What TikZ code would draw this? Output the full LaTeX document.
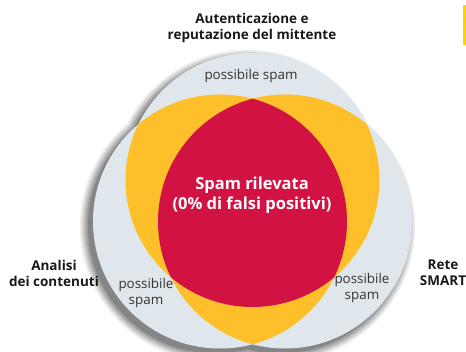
\documentclass[tikz,border=0pt]{standalone}
\usepackage{fontspec}
\setmainfont{Open Sans}
\definecolor{lightc}{HTML}{DFE7EC}
\definecolor{yel}{HTML}{FDC02A}
\definecolor{redc}{HTML}{D21243}
\definecolor{txtg}{HTML}{333333}
\definecolor{barc}{HTML}{FFD200}
\begin{document}
\begin{tikzpicture}[x=1pt,y=-1pt,
  lbl/.style={font=\fontsize{13.5}{16}\selectfont\bfseries, text=black!90, align=center, inner sep=0pt},
  spamtxt/.style={font=\fontsize{13.4}{16}\selectfont, text=txtg, align=center, inner sep=0pt},
  redtxt/.style={font=\fontsize{16.5}{20.5}\selectfont\bfseries, text=white, align=center, inner sep=0pt}]
\useasboundingbox (0,0) rectangle (466,352);
\def\R{127}
\coordinate (cT) at (252.5,180);
\coordinate (cL) at (220,221.5);
\coordinate (cR) at (285,221.5);
% shadow
\foreach \s/\o in {8/0.08,6/0.10,4/0.12,2/0.14,0/0.16}{
  \fill[black,opacity=\o] ([shift={(-5,5)}]cT) circle (\R+\s) ([shift={(-5,5)}]cL) circle (\R+\s) ([shift={(-5,5)}]cR) circle (\R+\s);
}
% union
\fill[lightc] (cT) circle (\R) (cL) circle (\R) (cR) circle (\R);
% pairwise intersections
\begin{scope}
  \clip (cT) circle (\R);
  \fill[yel] (cL) circle (\R) (cR) circle (\R);
\end{scope}
\begin{scope}
  \clip (cL) circle (\R);
  \fill[yel] (cR) circle (\R);
\end{scope}
% triple intersection
\begin{scope}
  \clip (cT) circle (\R);
  \clip (cL) circle (\R);
  \fill[redc] (cR) circle (\R);
\end{scope}
% texts
\node[lbl] (top) at (252,28) {Autenticazione e\\reputazione del mittente};
\node[lbl] (left) at (54,273) {Analisi\\dei contenuti};
\node[lbl] (right) at (443,273) {Rete\\SMART};
\node[spamtxt] (s1) at (251,76) {possibile spam};
\node[spamtxt] (s2) at (146,293) {possibile\\spam};
\node[spamtxt] (s3) at (362,288) {possibile\\spam};
\node[redtxt] (center) at (252,195) {Spam rilevata\\(0\% di falsi positivi)};
\fill[barc] (463,5) rectangle (466,45);
\end{tikzpicture}
\end{document}
